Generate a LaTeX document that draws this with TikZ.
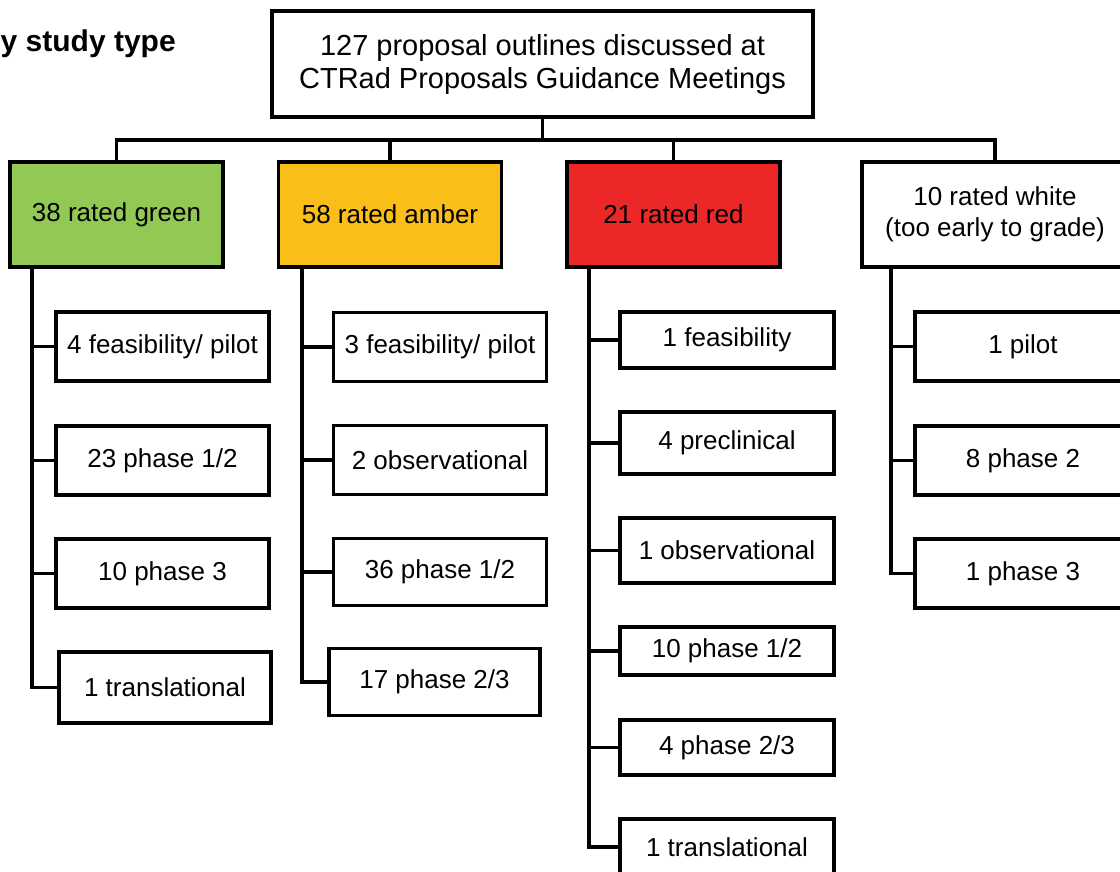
\documentclass[tikz,border=0pt]{standalone}
\usepackage{fontspec}
\setmainfont{Liberation Sans}
\definecolor{ratedgreen}{RGB}{146,200,84}
\definecolor{ratedamber}{RGB}{250,190,24}
\definecolor{ratedred}{RGB}{236,39,40}
\begin{document}
\begin{tikzpicture}[x=1pt,y=-1pt,
  box/.style={draw=black,line width=3.3pt,rectangle,inner sep=0pt,align=center,
              font=\fontsize{26}{31}\selectfont},
  rate/.style={box,minimum width=213pt,minimum height=105pt},
  kid/.style={box,minimum width=213pt,minimum height=69pt},
  link/.style={draw=black,line width=3.1pt}]
\useasboundingbox (0,0) rectangle (1120,871);

% heading
\node[anchor=base west,inner sep=0pt,font=\bfseries\fontsize{30}{32}\selectfont] (title) at (0.5,51) {y study type};

% root
\node[box,minimum width=541pt,minimum height=106pt,font=\fontsize{29}{33}\selectfont] (root) at (542.5,64)
  {127 proposal outlines discussed at\\CTRad Proposals Guidance Meetings};

% ratings
\node[rate,fill=ratedgreen] (g) at (116.5,214.5) {38 rated green};
\node[rate,fill=ratedamber,minimum width=223pt] (a) at (390,214.5) {58 rated amber};
\node[rate,fill=ratedred] (r) at (673.5,214.5) {21 rated red};
\node[rate,fill=white,minimum width=266pt] (w) at (995,214.5) {10 rated white\\(too early to grade)};

% bus from the root to the four ratings
\coordinate (bus) at (542.5,140);
\draw[link] (root.south) -- (bus);
\draw[link] (g.north) |- (bus) -| (w.north);
\draw[link] (a.north) -- (a.north |- bus);
\draw[link] (r.north) -- (r.north |- bus);

% green column
\node[kid] (g1) at (162.5,346.5) {4 feasibility/ pilot};
\node[kid] (g2) at (162.5,460.5) {23 phase 1/2};
\node[kid] (g3) at (162.5,573.5) {10 phase 3};
\node[kid,minimum width=212pt,minimum height=71pt] (g4) at (165,687.5) {1 translational};
\coordinate (gs) at (32,267);
\draw[link] (gs) |- (g4.west);
\foreach \k in {g1,g2,g3} \draw[link] (gs |- \k.west) -- (\k.west);

% amber column
\node[kid] (a1) at (440,347) {3 feasibility/ pilot};
\node[kid] (a2) at (440,460) {2 observational};
\node[kid,minimum height=67pt] (a3) at (440,572) {36 phase 1/2};
\node[kid,minimum width=211pt,minimum height=67pt] (a4) at (434.5,682) {17 phase 2/3};
\coordinate (as) at (302,267);
\draw[link] (as) |- (a4.west);
\foreach \k in {a1,a2,a3} \draw[link] (as |- \k.west) -- (\k.west);

% red column
\node[kid,minimum width=214pt,minimum height=56pt] (r1) at (727,340) {1 feasibility};
\node[kid,minimum width=214pt,minimum height=62pt] (r2) at (727,443) {4 preclinical};
\node[kid,minimum width=214pt,minimum height=65pt] (r3) at (727,550.5) {1 observational};
\node[kid,minimum width=214pt,minimum height=48pt] (r4) at (727,651) {10 phase 1/2};
\node[kid,minimum width=214pt,minimum height=55pt] (r5) at (727,747.5) {4 phase 2/3};
\node[kid,minimum width=214pt,minimum height=56pt] (r6) at (727,847) {1 translational};
\coordinate (rs) at (589,267);
\draw[link] (rs) |- (r6.west);
\foreach \k in {r1,r2,r3,r4,r5} \draw[link] (rs |- \k.west) -- (\k.west);

% white column
\node[kid,minimum width=216pt] (w1) at (1023,346.5) {1 pilot};
\node[kid,minimum width=216pt] (w2) at (1023,460.5) {8 phase 2};
\node[kid,minimum width=216pt] (w3) at (1023,573.5) {1 phase 3};
\coordinate (ws) at (891,267);
\draw[link] (ws) |- (w3.west);
\foreach \k in {w1,w2} \draw[link] (ws |- \k.west) -- (\k.west);
\end{tikzpicture}
\end{document}
